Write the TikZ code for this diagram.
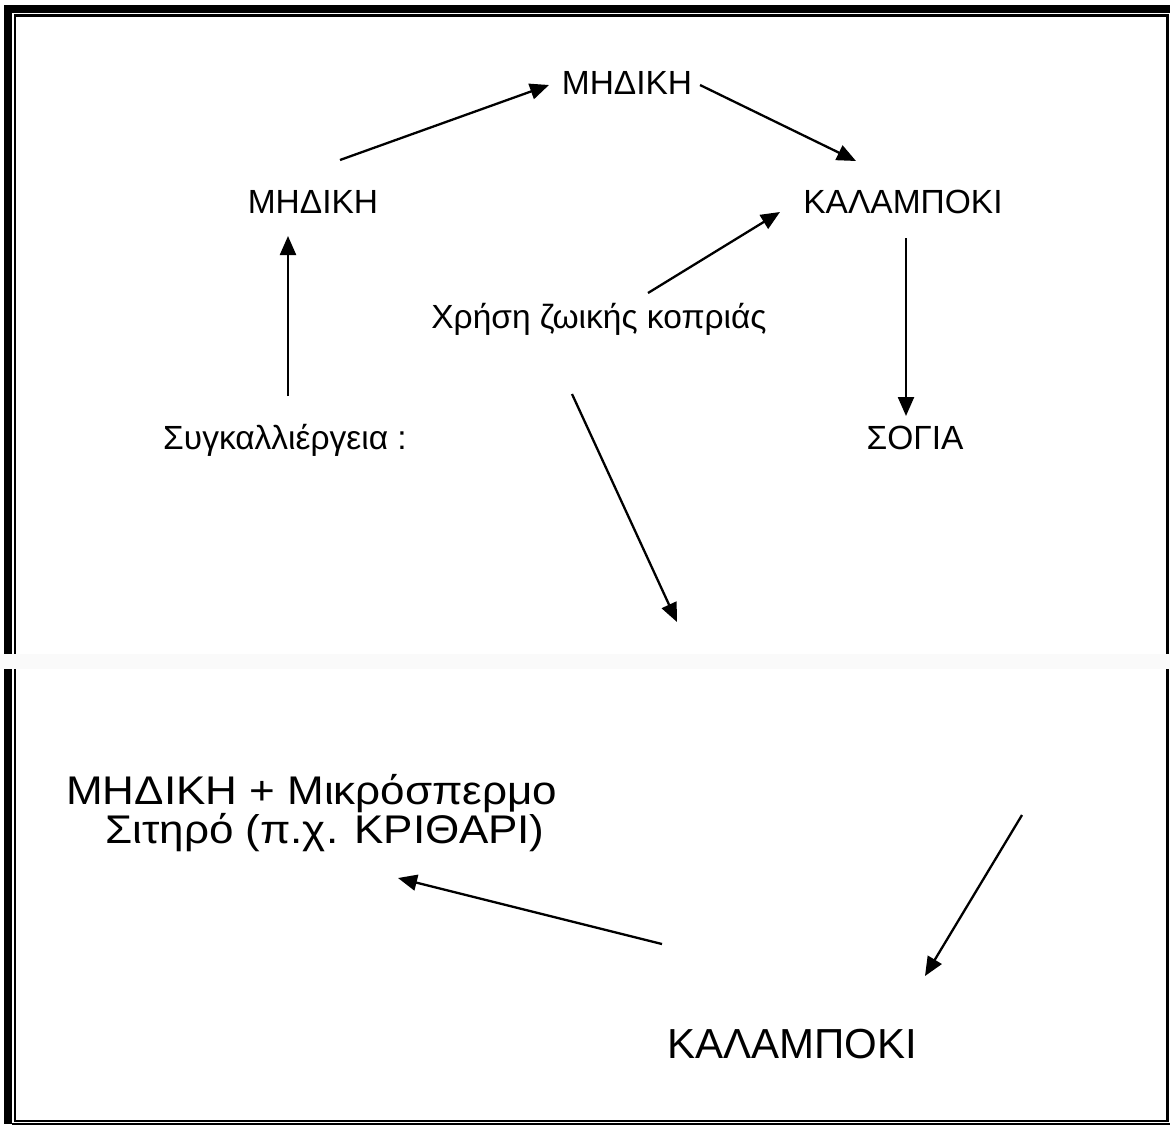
\documentclass[tikz,border=0pt]{standalone}
\usepackage{fontspec}
\setmainfont{Liberation Sans}
\newfontfamily\widefont[FakeStretch=1.1]{Liberation Sans}
\usetikzlibrary{arrows.meta}
\begin{document}
\begin{tikzpicture}[x=1pt,y=-1pt,
  lbl/.style={anchor=base,inner sep=0pt,font=\fontsize{33.5}{38}\selectfont},
  big/.style={anchor=base,inner sep=0pt,font=\fontsize{42}{48}\selectfont},
  arr/.style={line width=2.3pt,-{Triangle[length=19pt,width=16pt]}},
  thick bar/.style={fill=black,draw=none},
]
\useasboundingbox (0,0) rectangle (1170,1125);
% frame
\fill[thick bar] (4,5) rectangle (12,1124);
\fill[thick bar] (4,5) rectangle (1170,13);
\fill (13.5,14) rectangle (16,1122);
\fill (13.5,14) rectangle (1168,16.5);
\fill (1166,14) rectangle (1168.5,1122);
\fill (13.5,1119.5) rectangle (1168.5,1122);
\fill (12,1123.3) rectangle (1170,1125);
% gap band
\fill[black!2] (0,654) rectangle (1170,669);
% texts
\node[lbl] (m1) at (627,94) {ΜΗΔΙΚΗ};
\node[lbl] (m0) at (313,213) {ΜΗΔΙΚΗ};
\node[lbl] (k1) at (903,213) {ΚΑΛΑΜΠΟΚΙ};
\node[lbl] (xr) at (599,328) {Χρήση ζωικής κοπριάς};
\node[lbl] (sy) at (285,449) {Συγκαλλιέργεια :};
\node[lbl] (so) at (915,449) {ΣΟΓΙΑ};
\node[anchor=north west,inner sep=0pt,align=left,
      font=\widefont\fontsize{40}{36}\selectfont] (mm) at (66,774)
  {ΜΗΔΙΚΗ + Μικρόσπερμο\\\hspace*{39pt}Σιτηρό (π.χ. ΚΡΙΘΑΡΙ)};
\node[big] (k2) at (792,1058) {ΚΑΛΑΜΠΟΚΙ};
% connector endpoints
\coordinate (a1s) at (340,160); \coordinate (a1e) at (549,85);
\coordinate (a2s) at (700,85);  \coordinate (a2e) at (856,161);
\coordinate (a3s) at (288,396); \coordinate (a3e) at (288,236);
\coordinate (a4s) at (648,293); \coordinate (a4e) at (780,212);
\coordinate (a5s) at (906,238); \coordinate (a5e) at (906,416);
\coordinate (a6s) at (572,394); \coordinate (a6e) at (677,622);
\coordinate (a7s) at (1022,815); \coordinate (a7e) at (925,976);
\coordinate (a8s) at (662,944); \coordinate (a8e) at (398,878);
\draw[arr] (a1s) -- (a1e);
\draw[arr] (a2s) -- (a2e);
\draw[arr] (a3s) -- (a3e);
\draw[arr] (a4s) -- (a4e);
\draw[arr] (a5s) -- (a5e);
\draw[arr] (a6s) -- (a6e);
\draw[arr] (a7s) -- (a7e);
\draw[arr] (a8s) -- (a8e);
\end{tikzpicture}
\end{document}
